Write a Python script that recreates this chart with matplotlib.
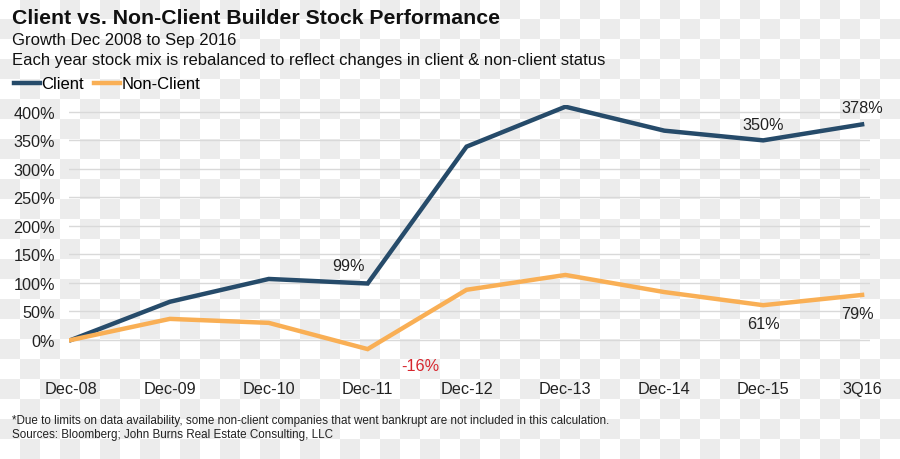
import numpy as np
import matplotlib
matplotlib.use("Agg")
import matplotlib.pyplot as plt
from matplotlib.colors import ListedColormap
from matplotlib.lines import Line2D

plt.rcParams['font.family'] = ['Liberation Sans', 'DejaVu Sans']

categories = ["Dec-08", "Dec-09", "Dec-10", "Dec-11", "Dec-12", "Dec-13", "Dec-14", "Dec-15", "3Q16"]
client = [0, 67, 107, 99, 339, 409, 367, 350, 378]
non_client = [0, 37, 30, -16, 88, 114, 84, 61, 79]
y_ticks = [0, 50, 100, 150, 200, 250, 300, 350, 400]
y_tick_labels = [f"{v}%" for v in y_ticks]

CLIENT_C = "#264B6A"
NON_C = "#F9AF55"

W, H = 900, 460
fig = plt.figure(figsize=(W / 100, H / 100), dpi=100)

# checkerboard background
bg = fig.add_axes([0, 0, 1, 1], zorder=-10)
rows, cols = H // 20, W // 20
ii, jj = np.indices((rows, cols))
board = (ii + jj) % 2
bg.imshow(board, cmap=ListedColormap(["white", "#ececec"]), extent=(0, W, H, 0),
          interpolation="nearest", aspect="auto")
bg.set_xlim(0, W)
bg.set_ylim(H, 0)
bg.axis("off")

left_px, right_px = 69, 870
bottom_px, top_px = 369.5, 106
ax = fig.add_axes([left_px / W, (H - bottom_px) / H, (right_px - left_px) / W, (bottom_px - top_px) / H])
ax.set_facecolor("none")

x = np.arange(len(categories))
ax.plot(x, client, color=CLIENT_C, lw=3.2, solid_joinstyle="miter", zorder=3, label="Client")
ax.plot(x, non_client, color=NON_C, lw=3.2, solid_joinstyle="miter", zorder=3, label="Non-Client")

ax.set_xlim(-0.02, 8.08)
ax.set_ylim(-50, 412)
ax.set_xticks(x)
ax.set_xticklabels(categories)
ax.set_yticks(y_ticks)
ax.set_yticklabels(y_tick_labels)
ax.tick_params(axis="both", length=0, labelsize=11.7, colors="#222222")
ax.tick_params(axis="x", pad=9)
ax.tick_params(axis="y", pad=10)
ax.grid(axis="y", color="#d9d9d9", lw=1)
ax.set_axisbelow(True)
for s in ax.spines.values():
    s.set_visible(False)

# data labels
lab_kw = dict(textcoords="offset points", ha="center", va="center", fontsize=11.7, color="#222222")
ax.annotate(f"{client[3]}%", (3, client[3]), xytext=(-13.5, 13), **lab_kw)
ax.annotate(f"{client[7]}%", (7, client[7]), xytext=(0, 11.5), **lab_kw)
ax.annotate(f"{client[8]}%", (8, client[8]), xytext=(0, 12), **lab_kw)
ax.annotate(f"{non_client[7]}%", (7, non_client[7]), xytext=(0, -13), **lab_kw)
ax.annotate(f"{non_client[8]}%", (8, non_client[8]), xytext=(-3.6, -13.7), **lab_kw)
lab_kw_red = dict(lab_kw, color="#D7262E")
ax.annotate(f"{non_client[3]}%", (3, non_client[3]), xytext=(38, -11.5), **lab_kw_red)

# titles
fig.text(12 / W, 1 - 19 / H, "Client vs. Non-Client Builder Stock Performance",
         fontsize=15.3, fontweight="bold", va="center", ha="left", color="#111111")
fig.text(12 / W, 1 - 41 / H, "Growth Dec 2008 to Sep 2016", fontsize=12, va="center", ha="left", color="#111111")
fig.text(12 / W, 1 - 60 / H, "Each year stock mix is rebalanced to reflect changes in client & non-client status",
         fontsize=12, va="center", ha="left", color="#111111")

# legend
handles = [Line2D([], [], color=CLIENT_C, lw=3.2), Line2D([], [], color=NON_C, lw=3.2)]
fig.legend(handles, ["Client", "Non-Client"], loc="center left", bbox_to_anchor=(14 / W, 1 - 85 / H),
           ncol=2, frameon=False, fontsize=12, handlelength=1.55, handletextpad=0.1,
           columnspacing=0.6, borderaxespad=0, borderpad=0)

# footnotes
fig.text(12 / W, 1 - 421 / H,
         "*Due to limits on data availability, some non-client companies that went bankrupt are not included in this calculation.",
         fontsize=8.4, va="center", ha="left", color="#222222")
fig.text(12 / W, 1 - 435 / H, "Sources: Bloomberg; John Burns Real Estate Consulting, LLC",
         fontsize=8.4, va="center", ha="left", color="#222222")

fig.savefig("out.png", dpi=100)
